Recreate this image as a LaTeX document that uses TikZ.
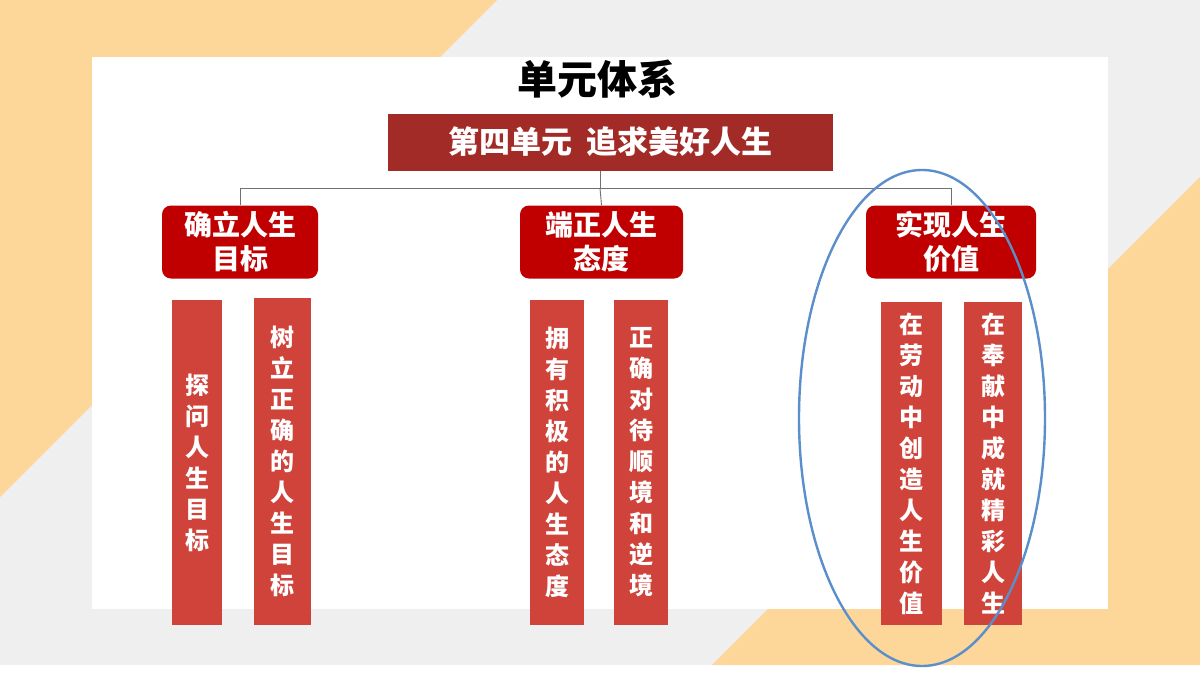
\documentclass[tikz,border=0pt]{standalone}
\usepackage{fontspec}
\setmainfont{Noto Sans CJK SC}
\begin{document}
\begin{tikzpicture}[x=1pt,y=-1pt,
  hbox/.style={fill=boxred,rounded corners=9pt,text=white,font=\fontsize{28}{34}\selectfont\bfseries,align=center,inner sep=0pt},
  bar/.style={fill=barred,text=white,font=\fontsize{24}{31}\selectfont\bfseries,align=center,inner sep=0pt},
  link/.style={draw=linegray,line width=0.9pt}]
\definecolor{bg}{HTML}{EFEFEF}
\definecolor{org}{HTML}{FDD699}
\definecolor{banner}{HTML}{A32B27}
\definecolor{boxred}{HTML}{C00000}
\definecolor{barred}{HTML}{D0433B}
\definecolor{linegray}{HTML}{707070}
\definecolor{ell}{HTML}{5B8FCB}
\useasboundingbox (0,0) rectangle (1200,675);
\fill[bg] (0,0) rectangle (1200,665);
\fill[white] (0,665) rectangle (1200,675);
\fill[org] (0,0) -- (497,0) -- (0,497) -- cycle;
\fill[org] (1200,177) -- (1200,665) -- (712,665) -- cycle;
\fill[white] (92,57) rectangle (1108,609);
\node (title) at (597,79) {\fontsize{40}{46}\selectfont\bfseries 单元体系};
\node[fill=banner,text=white,minimum width=445pt,minimum height=57pt,font=\fontsize{31}{36}\selectfont\bfseries] (unit) at (610.5,142) {第四单元\ \ 追求美好人生};
\node[hbox,minimum width=156pt,minimum height=73pt] (g1) at (240,242) {确立人生\\目标};
\node[hbox,minimum width=163pt,minimum height=73pt] (g2) at (601.5,242) {端正人生\\态度};
\node[hbox,minimum width=170pt,minimum height=73pt] (g3) at (951,242) {实现人生\\价值};
\coordinate (hub) at (600,188);
\draw[link] (unit.south -| hub) -- (hub);
\draw[link] (hub) -- (hub -| g1.north) -- (g1.north);
\draw[link] (hub) -- (hub -| g3.north) -- (g3.north);
\draw[link] (hub) -- (g2.north);
\node[bar,minimum width=50pt,minimum height=325pt] (b1) at (197,462.5) {探\\问\\人\\生\\目\\标};
\node[bar,minimum width=57pt,minimum height=327pt] (b2) at (282.5,461.5) {树\\立\\正\\确\\的\\人\\生\\目\\标};
\node[bar,minimum width=54pt,minimum height=325pt] (b3) at (557,462.5) {拥\\有\\积\\极\\的\\人\\生\\态\\度};
\node[bar,minimum width=54pt,minimum height=325pt] (b4) at (641,462.5) {正\\确\\对\\待\\顺\\境\\和\\逆\\境};
\node[bar,minimum width=61pt,minimum height=323pt] (b5) at (911.5,463.5) {在\\劳\\动\\中\\创\\造\\人\\生\\价\\值};
\node[bar,minimum width=58pt,minimum height=323pt] (b6) at (993,463.5) {在\\奉\\献\\中\\成\\就\\精\\彩\\人\\生};
\draw[ell,line width=2.4pt] (922,418) ellipse [x radius=123, y radius=248];
\end{tikzpicture}
\end{document}
